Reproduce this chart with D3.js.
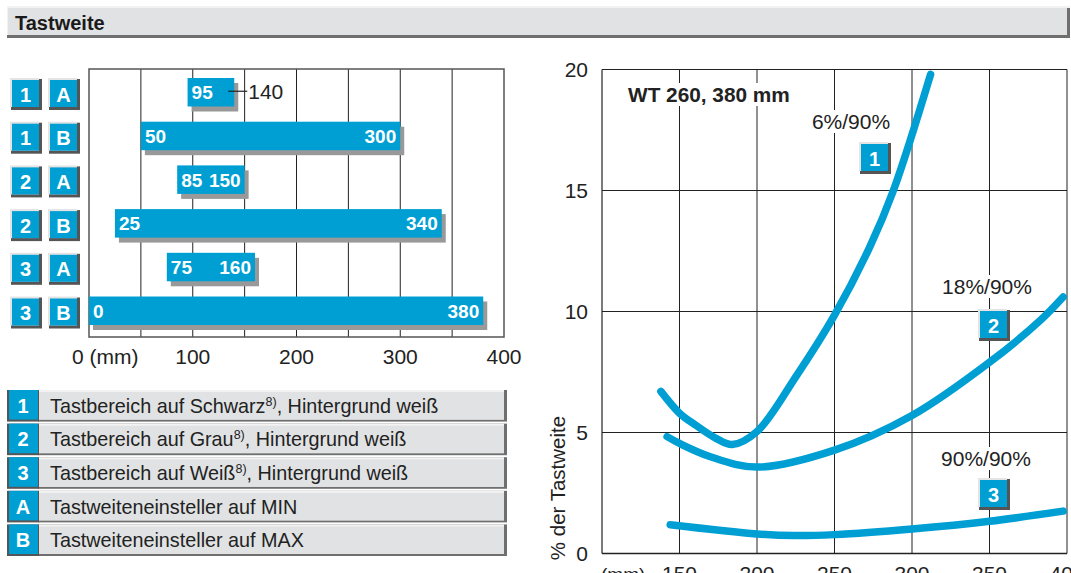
<!DOCTYPE html>
<html>
<head>
<meta charset="utf-8">
<script src="https://cdn.jsdelivr.net/npm/d3@7"></script>
<style>
  body { margin: 0; background: #fff; }
  svg { display: block; font-family: "Liberation Sans", Arial, sans-serif; }
</style>
</head>
<body>
<script>
// bar chart data (Tastbereich, mm)
const barNum = ["1", "1", "2", "2", "3", "3"];
const barLetter = ["A", "B", "A", "B", "A", "B"];
const barMin = [95, 50, 85, 25, 75, 0];
const barMax = [140, 300, 150, 340, 160, 380];
const barTicks = [0, 100, 200, 300, 400];

// legend
const legendKeys = ["1", "2", "3", "A", "B"];
const legendText = ["Tastbereich auf Schwarz", "Tastbereich auf Grau", "Tastbereich auf Weiß",
    "Tastweiteneinsteller auf MIN", "Tastweiteneinsteller auf MAX"];
const legendSup = ["8)", "8)", "8)", "", ""];
const legendTail = [", Hintergrund weiß", ", Hintergrund weiß", ", Hintergrund weiß", "", ""];

// curve chart data (% der Tastweite over distance in mm)
const curveNames = ["1", "2", "3"];
const curveLabels = ["6%/90%", "18%/90%", "90%/90%"];
const curve1 = [[138, 6.7], [150, 5.8], [160.5, 5.3], [173.5, 4.76], [184, 4.5], [200, 5.04], [225, 7.3], [250, 9.85], [273, 12.7], [288, 15], [312, 19.8]];
const curve2 = [[142, 4.83], [150, 4.55], [170, 4.0], [200, 3.57], [250, 4.27], [300, 5.7], [350, 7.9], [383, 9.65], [397.5, 10.6]];
const curve3 = [[144, 1.19], [200, 0.81], [224, 0.74], [250, 0.78], [300, 1.01], [350, 1.33], [397.5, 1.75]];
const xTicks = [150, 200, 250, 300, 350, 400];
const yTicks = [0, 5, 10, 15, 20];

const blue = "#009fd3";
const W = 1071, H = 573;

const svg = d3.select("body").append("svg")
    .attr("width", W).attr("height", H);

// title bar
const title = svg.append("g");
title.append("rect").attr("x", 7).attr("y", 6).attr("width", 1063).attr("height", 32).attr("fill", "#f2f2f2");
title.append("rect").attr("x", 8).attr("y", 8).attr("width", 1061).attr("height", 28).attr("fill", "#e1e2e4");
title.append("rect").attr("x", 7).attr("y", 35).attr("width", 1063).attr("height", 3).attr("fill", "#6f6f6f");
title.append("rect").attr("x", 1067).attr("y", 8).attr("width", 3).attr("height", 30).attr("fill", "#6f6f6f");
title.append("text").attr("x", 15).attr("y", 30)
    .attr("font-size", 20).attr("font-weight", "bold").attr("fill", "#1a1a1a")
    .text("Tastweite");

// small blue key box with 3D edge
function badge(g, x, y, label, size) {
    g.append("rect").attr("x", x).attr("y", y).attr("width", size).attr("height", size).attr("fill", "#555");
    g.append("rect").attr("x", x - 1).attr("y", y - 1).attr("width", size - 2).attr("height", size - 2).attr("fill", "#e4e4e4");
    g.append("rect").attr("x", x + 1).attr("y", y + 1).attr("width", size - 4).attr("height", size - 4).attr("fill", blue);
    g.append("text").attr("x", x + size / 2 - 1).attr("y", y + size / 2 + 7)
        .attr("text-anchor", "middle").attr("font-size", 20).attr("font-weight", "bold")
        .attr("fill", "#fff").text(label);
}

// ---------- left: range bars ----------
const bx = d3.scaleLinear().domain([0, 400]).range([89, 504]);
const by = d3.scaleBand().domain(d3.range(barMin.length)).range([78, 325]).paddingInner(0.348);

const left = svg.append("g");

// grid
left.selectAll(".vgrid").data(d3.range(50, 400, 50)).enter().append("line")
    .attr("x1", d => bx(d)).attr("x2", d => bx(d))
    .attr("y1", 69).attr("y2", 337)
    .attr("stroke", "#222").attr("stroke-width", 1);
left.append("rect").attr("x", bx(0)).attr("y", 69).attr("width", bx(400) - bx(0)).attr("height", 268)
    .attr("fill", "none").attr("stroke", "#555").attr("stroke-width", 1.5);

const rows = left.selectAll(".row").data(barMin).enter().append("g");

// shadow + bar
rows.append("rect")
    .attr("x", (d, i) => bx(barMin[i]) + 4).attr("y", (d, i) => by(i) + 5)
    .attr("width", (d, i) => bx(barMax[i]) - bx(barMin[i])).attr("height", by.bandwidth())
    .attr("fill", "#999");
rows.append("rect")
    .attr("x", (d, i) => bx(barMin[i])).attr("y", (d, i) => by(i))
    .attr("width", (d, i) => bx(barMax[i]) - bx(barMin[i])).attr("height", by.bandwidth())
    .attr("fill", blue);

// min label inside bar
rows.append("text")
    .attr("x", (d, i) => bx(barMin[i]) + 4).attr("y", (d, i) => by(i) + by.bandwidth() / 2 + 7)
    .attr("font-size", 19).attr("font-weight", "bold").attr("fill", "#fff")
    .text((d, i) => barMin[i]);

// max label: inside if room, otherwise outside with leader
rows.each(function (d, i) {
    const g = d3.select(this);
    const w = bx(barMax[i]) - bx(barMin[i]);
    const yc = by(i) + by.bandwidth() / 2;
    if (w < 60) {
        g.append("line").attr("x1", bx(barMax[i]) - 6).attr("x2", bx(barMax[i]) + 13)
            .attr("y1", yc - 1).attr("y2", yc - 1).attr("stroke", "#222").attr("stroke-width", 1.2);
        g.append("text").attr("x", bx(barMax[i]) + 14).attr("y", yc + 7)
            .attr("font-size", 21).attr("fill", "#222").text(barMax[i]);
    } else {
        g.append("text").attr("x", bx(barMax[i]) - 4).attr("y", yc + 7)
            .attr("text-anchor", "end").attr("font-size", 19).attr("font-weight", "bold").attr("fill", "#fff")
            .text(barMax[i]);
    }
    badge(g, 11, by(i) + 1, barNum[i], 31);
    badge(g, 49, by(i) + 1, barLetter[i], 31);
});

// x axis labels
left.selectAll(".btick").data(barTicks).enter().append("text")
    .attr("x", d => d === 0 ? bx(0) - 17 : bx(d))
    .attr("y", 364)
    .attr("text-anchor", d => d === 0 ? "start" : "middle")
    .attr("font-size", 21).attr("fill", "#222")
    .text(d => d === 0 ? "0 (mm)" : d);

// ---------- legend ----------
const ly = d3.scaleBand().domain(d3.range(legendKeys.length)).range([390, 556]).paddingInner(0.06);
const legend = svg.append("g");
legendKeys.forEach((k, i) => {
    const y = ly(i), h = ly.bandwidth();
    legend.append("rect").attr("x", 38).attr("y", y).attr("width", 469).attr("height", h).attr("fill", "#6f6f6f");
    legend.append("rect").attr("x", 38).attr("y", y).attr("width", 466).attr("height", h - 2).attr("fill", "#f3f3f3");
    legend.append("rect").attr("x", 39).attr("y", y + 2).attr("width", 465).attr("height", h - 4).attr("fill", "#e1e2e4");
    legend.append("rect").attr("x", 7).attr("y", y).attr("width", 32).attr("height", h).attr("fill", "#555");
    legend.append("rect").attr("x", 9).attr("y", y).attr("width", 29).attr("height", h - 2).attr("fill", blue);
    legend.append("text").attr("x", 23).attr("y", y + h / 2 + 7)
        .attr("text-anchor", "middle").attr("font-size", 20).attr("font-weight", "bold").attr("fill", "#fff").text(k);
    const t = legend.append("text").attr("x", 50).attr("y", y + h / 2 + 7)
        .attr("font-size", 19.8).attr("fill", "#222");
    t.append("tspan").text(legendText[i]);
    if (legendSup[i]) {
        t.append("tspan").attr("dy", -7).attr("font-size", 12.5).text(legendSup[i]);
        t.append("tspan").attr("dy", 7).text(legendTail[i]);
    }
});

// ---------- right: curves ----------
const cx = d3.scaleLinear().domain([100, 400]).range([602, 1067]);
const cy = d3.scaleLinear().domain([0, 20]).range([553.5, 69.5]);
const right = svg.append("g");

right.selectAll(".cv").data(xTicks).enter().append("line")
    .attr("x1", d => cx(d)).attr("x2", d => cx(d)).attr("y1", cy(20)).attr("y2", cy(0))
    .attr("stroke", "#222").attr("stroke-width", 1);
right.selectAll(".ch").data(yTicks).enter().append("line")
    .attr("x1", cx(100)).attr("x2", cx(400)).attr("y1", d => cy(d)).attr("y2", d => cy(d))
    .attr("stroke", "#222").attr("stroke-width", 1);
right.append("line").attr("x1", cx(100)).attr("x2", cx(100)).attr("y1", cy(20)).attr("y2", cy(0))
    .attr("stroke", "#222").attr("stroke-width", 1.2);
right.append("line").attr("x1", cx(100)).attr("x2", cx(400)).attr("y1", cy(0)).attr("y2", cy(0))
    .attr("stroke", "#222").attr("stroke-width", 1.5);

// y tick labels
right.selectAll(".yt").data(yTicks).enter().append("text")
    .attr("x", 588).attr("y", d => cy(d) + 7.5)
    .attr("text-anchor", "end").attr("font-size", 21).attr("fill", "#222")
    .text(d => d);
// x tick labels
right.selectAll(".xt").data(xTicks).enter().append("text")
    .attr("x", d => cx(d)).attr("y", 581)
    .attr("text-anchor", "middle").attr("font-size", 21).attr("fill", "#222")
    .text(d => d);
right.append("text").attr("x", 601).attr("y", 581)
    .attr("font-size", 19).attr("fill", "#222").text("(mm)");

right.append("text")
    .attr("transform", "translate(565,488) rotate(-90)")
    .attr("text-anchor", "middle").attr("font-size", 20.5).attr("fill", "#222")
    .text("% der Tastweite");

// text labels with white backing to break the grid
function boxedText(x, y, txt, size, weight, anchor) {
    const t = right.append("text").attr("x", x).attr("y", y)
        .attr("font-size", size).attr("font-weight", weight).attr("fill", "#222")
        .attr("text-anchor", anchor).text(txt);
    const b = t.node().getBBox();
    right.insert("rect", function () { return t.node(); })
        .attr("x", b.x - 2).attr("y", b.y).attr("width", b.width + 4).attr("height", b.height)
        .attr("fill", "#fff");
}
boxedText(628, 102, "WT 260, 380 mm", 20.8, "bold", "start");

const line = d3.line().x(d => cx(d[0])).y(d => cy(d[1])).curve(d3.curveCatmullRom.alpha(0.5));
right.selectAll(".curve").data([curve1, curve2, curve3]).enter().append("path")
    .attr("d", line).attr("fill", "none").attr("stroke", blue)
    .attr("stroke-width", 7.5).attr("stroke-linecap", "round");

const labelPos = [[851, 129], [987, 294], [986, 466]];
const badgePos = [[860, 143], [979, 310], [979, 479]];
curveNames.forEach((n, i) => {
    boxedText(labelPos[i][0], labelPos[i][1], curveLabels[i], 21, "normal", "middle");
    badge(right, badgePos[i][0], badgePos[i][1], n, 31);
});
</script>
</body>
</html>
